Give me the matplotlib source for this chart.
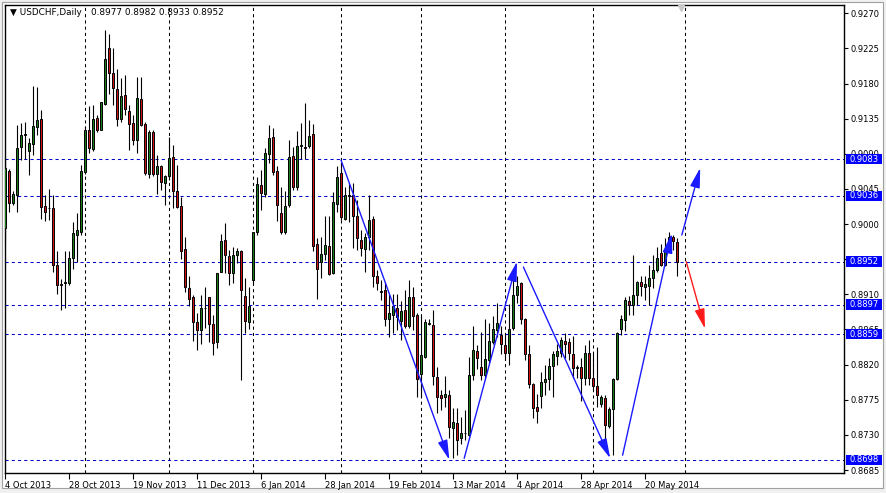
import numpy as np
import pandas as pd
import matplotlib
matplotlib.use('Agg')
import matplotlib.pyplot as plt
import matplotlib.transforms as mtransforms
from matplotlib.patches import Rectangle

plt.rcParams['font.family'] = ['DejaVu Sans']

symbol = 'USDCHF,Daily'

# daily bars, weekdays without 25 Dec and 1 Jan
holidays = pd.to_datetime(['2013-12-25', '2014-01-01'])
dates = pd.bdate_range('2013-10-04', '2014-05-30')
dates = dates[~dates.isin(holidays)]

opens = [0.8995, 0.9068, 0.9027, 0.9037, 0.9099, 0.9114, 0.9094, 0.9102, 0.9124, 0.9134,
         0.9023, 0.9021, 0.9021, 0.8948, 0.8923, 0.8924, 0.8924, 0.8956, 0.8986, 0.8990,
         0.9067, 0.9120, 0.9096, 0.9136, 0.9121, 0.9154, 0.9226, 0.9194, 0.9173, 0.9135,
         0.9165, 0.9145, 0.9129, 0.9108, 0.9160, 0.9128, 0.9064, 0.9118, 0.9064, 0.9075,
         0.9053, 0.9061, 0.9086, 0.9043, 0.9023, 0.8968, 0.8918, 0.8907, 0.8874, 0.8864,
         0.8893, 0.8906, 0.8872, 0.8849, 0.8939, 0.8979, 0.8959, 0.8937, 0.8960, 0.8966,
         0.8908, 0.8875, 0.8928, 0.8990, 0.9050, 0.9039, 0.9090, 0.9111, 0.9068, 0.9014,
         0.8990, 0.9024, 0.9087, 0.9048, 0.9100, 0.9099, 0.9100, 0.9115, 0.8974, 0.8951,
         0.8962, 0.8972, 0.8937, 0.9026, 0.9065, 0.9007, 0.9037, 0.9037, 0.9010, 0.8979,
         0.8968, 0.8983, 0.9006, 0.8934, 0.8914, 0.8916, 0.8879, 0.8884, 0.8893, 0.8876,
         0.8890, 0.8869, 0.8907, 0.8884, 0.8808, 0.8830, 0.8873, 0.8871, 0.8804, 0.8781,
         0.8778, 0.8781, 0.8739, 0.8745, 0.8726, 0.8732, 0.8730, 0.8807, 0.8837, 0.8817,
         0.8807, 0.8826, 0.8849, 0.8864, 0.8858, 0.8845, 0.8835, 0.8867, 0.8909, 0.8924,
         0.8879, 0.8833, 0.8795, 0.8766, 0.8780, 0.8798, 0.8802, 0.8818, 0.8831, 0.8835,
         0.8850, 0.8849, 0.8834, 0.8817, 0.8817, 0.8803, 0.8835, 0.8803, 0.8792, 0.8769,
         0.8777, 0.8742, 0.8763, 0.8802, 0.8866, 0.8877, 0.8902, 0.8897, 0.8909, 0.8926,
         0.8919, 0.8921, 0.8931, 0.8941, 0.8963, 0.8947, 0.8967, 0.8983, 0.8977]
highs = [0.9082, 0.9070, 0.9042, 0.9127, 0.9130, 0.9131, 0.9110, 0.9177, 0.9176, 0.9146,
         0.9037, 0.9045, 0.9037, 0.8965, 0.8930, 0.8965, 0.8965, 0.9003, 0.9014, 0.9076,
         0.9125, 0.9151, 0.9153, 0.9140, 0.9157, 0.9249, 0.9243, 0.9225, 0.9199, 0.9187,
         0.9191, 0.9153, 0.9140, 0.9189, 0.9189, 0.9131, 0.9121, 0.9120, 0.9088, 0.9076,
         0.9063, 0.9112, 0.9101, 0.9076, 0.9035, 0.8983, 0.8934, 0.8909, 0.8886, 0.8909,
         0.8919, 0.8907, 0.8884, 0.8938, 0.8987, 0.9001, 0.8967, 0.8971, 0.8969, 0.8967,
         0.8931, 0.8919, 0.8990, 0.9060, 0.9069, 0.9097, 0.9127, 0.9123, 0.9074, 0.9047,
         0.9042, 0.9108, 0.9099, 0.9119, 0.9130, 0.9155, 0.9133, 0.9128, 0.8982, 0.8984,
         0.9010, 0.9010, 0.9041, 0.9074, 0.9080, 0.9048, 0.9052, 0.9052, 0.9031, 0.8993,
         0.8988, 0.9037, 0.9010, 0.8941, 0.8928, 0.8926, 0.8911, 0.8911, 0.8911, 0.8901,
         0.8916, 0.8929, 0.8920, 0.8886, 0.8884, 0.8879, 0.8879, 0.8890, 0.8817, 0.8788,
         0.8805, 0.8788, 0.8765, 0.8764, 0.8753, 0.8762, 0.8830, 0.8869, 0.8845, 0.8862,
         0.8879, 0.8873, 0.8882, 0.8899, 0.8869, 0.8860, 0.8898, 0.8928, 0.8933, 0.8926,
         0.8880, 0.8845, 0.8796, 0.8783, 0.8811, 0.8820, 0.8828, 0.8837, 0.8847, 0.8856,
         0.8861, 0.8854, 0.8857, 0.8820, 0.8828, 0.8845, 0.8852, 0.8835, 0.8842, 0.8781,
         0.8781, 0.8766, 0.8803, 0.8862, 0.8884, 0.8907, 0.8908, 0.8960, 0.8927, 0.8933,
         0.8934, 0.8948, 0.8960, 0.8971, 0.8975, 0.8982, 0.8990, 0.8986, 0.8982]
lows = [0.8977, 0.9016, 0.9024, 0.9015, 0.9082, 0.9084, 0.9063, 0.9088, 0.9114, 0.9007,
        0.9004, 0.9005, 0.8939, 0.8911, 0.8890, 0.8893, 0.8922, 0.8943, 0.8952, 0.8986,
        0.9064, 0.9091, 0.9094, 0.9118, 0.9120, 0.9153, 0.9167, 0.9153, 0.9125, 0.9131,
        0.9140, 0.9095, 0.9101, 0.9091, 0.9125, 0.9063, 0.9059, 0.9061, 0.9039, 0.9044,
        0.9024, 0.9056, 0.9020, 0.9020, 0.8955, 0.8913, 0.8895, 0.8850, 0.8839, 0.8847,
        0.8867, 0.8849, 0.8832, 0.8841, 0.8939, 0.8937, 0.8922, 0.8924, 0.8950, 0.8800,
        0.8860, 0.8865, 0.8923, 0.8986, 0.9018, 0.9035, 0.9078, 0.9063, 0.9004, 0.8987,
        0.8987, 0.9022, 0.9044, 0.9044, 0.9084, 0.9084, 0.9097, 0.8965, 0.8904, 0.8931,
        0.8954, 0.8935, 0.8936, 0.9015, 0.9005, 0.9005, 0.9003, 0.8969, 0.8967, 0.8959,
        0.8939, 0.8967, 0.8919, 0.8916, 0.8903, 0.8869, 0.8856, 0.8860, 0.8864, 0.8852,
        0.8867, 0.8867, 0.8864, 0.8778, 0.8779, 0.8828, 0.8871, 0.8794, 0.8758, 0.8762,
        0.8766, 0.8726, 0.8700, 0.8704, 0.8718, 0.8724, 0.8728, 0.8800, 0.8815, 0.8800,
        0.8802, 0.8822, 0.8847, 0.8855, 0.8834, 0.8826, 0.8820, 0.8864, 0.8899, 0.8872,
        0.8826, 0.8790, 0.8752, 0.8745, 0.8764, 0.8781, 0.8788, 0.8778, 0.8820, 0.8830,
        0.8828, 0.8826, 0.8803, 0.8803, 0.8773, 0.8794, 0.8794, 0.8788, 0.8766, 0.8766,
        0.8721, 0.8739, 0.8704, 0.8800, 0.8858, 0.8863, 0.8884, 0.8884, 0.8897, 0.8908,
        0.8903, 0.8897, 0.8918, 0.8939, 0.8946, 0.8946, 0.8965, 0.8967, 0.8933]
closes = [0.9072, 0.9027, 0.9038, 0.9098, 0.9114, 0.9115, 0.9104, 0.9126, 0.9133, 0.9022,
          0.9016, 0.9020, 0.8948, 0.8922, 0.8922, 0.8926, 0.8957, 0.8988, 0.8992, 0.9068,
          0.9121, 0.9098, 0.9134, 0.9120, 0.9156, 0.9212, 0.9193, 0.9174, 0.9134, 0.9164,
          0.9148, 0.9128, 0.9108, 0.9161, 0.9127, 0.9066, 0.9118, 0.9064, 0.9074, 0.9054,
          0.9062, 0.9085, 0.9043, 0.9022, 0.8966, 0.8919, 0.8904, 0.8874, 0.8864, 0.8892,
          0.8893, 0.8872, 0.8848, 0.8938, 0.8978, 0.8960, 0.8938, 0.8960, 0.8966, 0.8915,
          0.8876, 0.8895, 0.8990, 0.9051, 0.9040, 0.9091, 0.9110, 0.9067, 0.9024, 0.8990,
          0.9023, 0.9086, 0.9047, 0.9100, 0.9101, 0.9098, 0.9113, 0.8972, 0.8943, 0.8962,
          0.8973, 0.8936, 0.9028, 0.9060, 0.9009, 0.9037, 0.9036, 0.9010, 0.8982, 0.8969,
          0.8983, 0.9005, 0.8934, 0.8925, 0.8913, 0.8879, 0.8886, 0.8895, 0.8881, 0.8889,
          0.8869, 0.8907, 0.8882, 0.8802, 0.8832, 0.8874, 0.8872, 0.8805, 0.8778, 0.8777,
          0.8782, 0.8740, 0.8746, 0.8723, 0.8732, 0.8733, 0.8807, 0.8839, 0.8829, 0.8807,
          0.8827, 0.8850, 0.8866, 0.8873, 0.8846, 0.8835, 0.8866, 0.8909, 0.8921, 0.8879,
          0.8833, 0.8795, 0.8764, 0.8760, 0.8798, 0.8802, 0.8818, 0.8833, 0.8838, 0.8852,
          0.8847, 0.8835, 0.8816, 0.8816, 0.8803, 0.8835, 0.8803, 0.8793, 0.8781, 0.8778,
          0.8743, 0.8763, 0.8802, 0.8861, 0.8878, 0.8903, 0.8897, 0.8909, 0.8926, 0.8921,
          0.8923, 0.8931, 0.8941, 0.8956, 0.8948, 0.8968, 0.8984, 0.8978, 0.8952]

# horizontal levels drawn on the chart
levels = [0.9083, 0.9036, 0.8952, 0.8897, 0.8859, 0.8698]

# hand drawn arrows: (bar index, price) start -> end
blue_arrows = [((84.0, 0.9082), (111.1, 0.8698)),
               ((114.8, 0.8700), (128.0, 0.8952)),
               ((129.6, 0.8945), (151.3, 0.8700)),
               ((154.4, 0.8704), (166.7, 0.8988)),
               ((169.2, 0.8986), (173.8, 0.9072))]
red_arrows = [((170.3, 0.8952), (175.0, 0.8866))]

W, H = 886, 493
fig = plt.figure(figsize=(W / 100, H / 100), dpi=100, facecolor='#f0f0f0')
fig.patches.append(Rectangle((2 / W, 5 / H), 881 / W, 486 / H, transform=fig.transFigure,
                             facecolor='white', edgecolor='#a0a0a0', lw=0.8, zorder=-10))
ax = fig.add_axes([4.5 / W, 20 / H, 839.5 / W, 468.3 / H])
ax.set_zorder(1)
ax.set_facecolor('white')

x = np.arange(len(dates))
o, h, l, c = map(np.array, (opens, highs, lows, closes))
up = c >= o

ax.vlines(x, np.minimum(l, np.minimum(o, c)), np.maximum(h, np.maximum(o, c)),
          color='black', lw=0.8, zorder=3)
ax.bar(x, np.abs(c - o), bottom=np.minimum(o, c), width=0.6,
       color=np.where(up, '#1c7c1c', '#c81414'), edgecolor='black', lw=0.7, zorder=4)

# month grid; the next month start in the empty area counts calendar days
month_idx = [i for i in range(1, len(dates)) if dates[i].month != dates[i - 1].month]
future = pd.date_range(dates[-1] + pd.Timedelta(days=1), periods=31, freq='D')
for k, d in enumerate(future, start=1):
    if d.day == 1:
        month_idx.append(len(dates) - 1 + k)
        break
for m in month_idx:
    ax.axvline(m, color='black', ls=(0, (3, 3)), lw=0.75, zorder=1)

for lv in levels:
    ax.axhline(lv, color='#0000cd', ls=(0, (3, 3)), lw=0.75, zorder=2)

for arrows, col in ((blue_arrows, '#1a1aff'), (red_arrows, '#ff1a1a')):
    for start, end in arrows:
        ax.annotate('', xy=end, xytext=start,
                    arrowprops=dict(arrowstyle='-|>,head_length=1.2,head_width=0.3',
                                    color=col, lw=1.0, mutation_scale=10,
                                    shrinkA=0, shrinkB=0), zorder=5)

ax.set_xlim(-0.125, 209.75)
ax.set_ylim(0.86812, 0.92810)

yt = np.round(np.arange(0.8685, 0.92701, 0.0045), 4)
ax.yaxis.tick_right()
ax.set_yticks(yt)
ax.set_yticklabels([f'{v:.4f}' for v in yt])
ax.tick_params(axis='y', length=3, width=0.8, pad=2, labelsize=6)

xt = x[::16]
ax.set_xticks(xt)
ax.set_xticklabels([f'{d.day} {d:%b %Y}' for d in dates[::16]], ha='left')
ax.tick_params(axis='x', length=4, width=0.8, pad=1.5, labelsize=6)

for sp in ax.spines.values():
    sp.set_linewidth(1.0)
    sp.set_color('black')

# level price boxes on the price scale
trans = mtransforms.blended_transform_factory(ax.transAxes, ax.transData)
px_x = 1 / 839.5
px_y = (0.92810 - 0.86812) / 468.3
for lv in levels:
    ax.add_patch(Rectangle((1 + 2 * px_x, lv - 5.2 * px_y), 36 * px_x, 10.4 * px_y,
                           transform=trans, facecolor='#0000ff', edgecolor='none',
                           clip_on=False, zorder=6))
    ax.text(1 + 5 * px_x, lv, f'{lv:.4f}', transform=trans, color='white', fontsize=6,
            va='center', ha='left', zorder=7, clip_on=False)

ax.plot([0.806], [0.993], marker='v', color='#c8c8c8', ms=5, transform=ax.transAxes,
        clip_on=False, zorder=6)

ohlc = ' '.join(f'{v:.4f}' for v in (o[-1], h[-1], l[-1], c[-1]))
ax.text(5.5 * px_x, 1 - 8 / 468.3, '\u25bc ' + symbol, transform=ax.transAxes,
        fontsize=6.4, va='center', ha='left', zorder=8)
ax.text(86.5 * px_x, 1 - 8 / 468.3, ohlc, transform=ax.transAxes,
        fontsize=6.4, va='center', ha='left', zorder=8)

fig.savefig('out.png', dpi=100, facecolor=fig.get_facecolor())
